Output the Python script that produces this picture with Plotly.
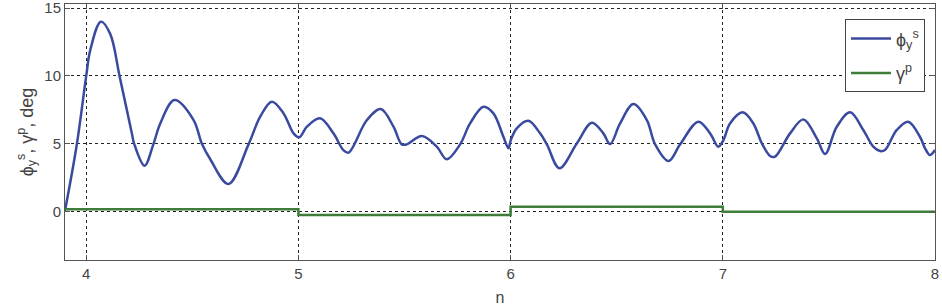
import plotly.graph_objects as go

# phi_y^s trace
phi_x = [3.899, 3.956, 4.000, 4.019, 4.069, 4.113, 4.157, 4.215, 4.226, 4.275,
         4.317, 4.349, 4.416, 4.506, 4.545, 4.584, 4.670, 4.765, 4.820, 4.875,
         4.930, 4.977, 5.004, 5.040, 5.102, 5.165, 5.212, 5.236, 5.323, 5.388,
         5.448, 5.487, 5.511, 5.582, 5.652, 5.699, 5.762, 5.809, 5.872, 5.919,
         5.966, 5.990, 6.001, 6.029, 6.084, 6.139, 6.171, 6.230, 6.312, 6.383,
         6.437, 6.469, 6.516, 6.579, 6.642, 6.681, 6.744, 6.799, 6.885, 6.940,
         6.979, 7.003, 7.034, 7.094, 7.144, 7.184, 7.223, 7.246, 7.317, 7.380,
         7.443, 7.482, 7.537, 7.600, 7.662, 7.709, 7.741, 7.764, 7.820, 7.874,
         7.929, 7.953, 7.976, 8.000]
phi_y = [0.0, 4.99, 10.0, 11.9, 14.0, 13.1, 10.0, 5.77, 5.0, 3.39,
         5.0, 6.5, 8.22, 6.75, 5.0, 3.88, 2.04, 4.96, 7.0, 8.1,
         7.24, 5.77, 5.48, 6.26, 6.88, 5.77, 4.54, 4.35, 6.75, 7.56,
         6.26, 4.96, 4.96, 5.57, 4.79, 3.86, 4.96, 6.5, 7.73, 7.24,
         5.52, 4.67, 5.28, 6.14, 6.70, 5.77, 4.96, 3.20, 5.03, 6.55,
         5.77, 4.98, 6.5, 7.93, 6.75, 4.96, 3.73, 4.96, 6.63, 5.77,
         4.79, 5.28, 6.5, 7.32, 6.5, 5.03, 4.10, 4.05, 5.77, 6.80,
         5.40, 4.25, 6.26, 7.32, 6.02, 4.79, 4.47, 4.54, 6.02, 6.63,
         5.52, 4.67, 4.17, 4.54]

# gamma^p step trace
gam_x = [3.9, 5.0, 6.0, 7.0, 8.0]
gam_y = [0.18, -0.24, 0.37, 0.0, 0.0]

x_ticks = [4, 5, 6, 7, 8]
y_ticks = [0, 5, 10, 15]

fig = go.Figure()
fig.add_trace(go.Scatter(x=phi_x, y=phi_y, mode="lines", name="ϕ<sub>y</sub><sup>s</sup>",
                         legendgroup="a",
                         line=dict(color="#3a4a9f", width=2.5, shape="spline", smoothing=1.0)))
fig.add_trace(go.Scatter(x=gam_x, y=gam_y, mode="lines", name="γ<sup>p</sup>",
                         legendgroup="b",
                         line=dict(color="#3f7d3a", width=2.5, shape="hv")))

axis_common = dict(showline=True, linecolor="#555555", linewidth=1, mirror="allticks",
                   ticks="inside", ticklen=5, tickcolor="#555555", automargin=False,
                   ticklabeloverflow="allow",
                   showgrid=True, gridcolor="#222222", griddash="dot", gridwidth=1,
                   zeroline=False, tickfont=dict(family="Liberation Sans", size=15, color="#444444"))

fig.update_xaxes(range=[3.9, 8.0], tickvals=x_ticks, ticktext=[str(v) for v in x_ticks],
                 title=dict(text="n", font=dict(family="Liberation Sans", size=16, color="#444444"), standoff=10),
                 **axis_common)
fig.update_yaxes(range=[-3.56, 15.3], tickvals=y_ticks, ticktext=[str(v) for v in y_ticks],
                 title=dict(text="ϕ<sub>y</sub><sup>s</sup>, γ<sup>p</sup>, deg",
                            font=dict(family="Liberation Sans", size=18, color="#444444"), standoff=6),
                 **axis_common)

fig.update_layout(
    width=942, height=308,
    margin=dict(l=65, r=7, t=4, b=48),
    plot_bgcolor="white", paper_bgcolor="white",
    showlegend=True,
    legend=dict(x=0.9885, y=0.94, xanchor="right", yanchor="top",
                bgcolor="white", bordercolor="#444444", borderwidth=1,
                font=dict(family="Liberation Sans", size=18, color="#444444"),
                itemwidth=40, traceorder="grouped", tracegroupgap=8),
)

fig.write_html("out.html", config={"displayModeBar": False},
               post_script="document.body.style.margin='0';")
